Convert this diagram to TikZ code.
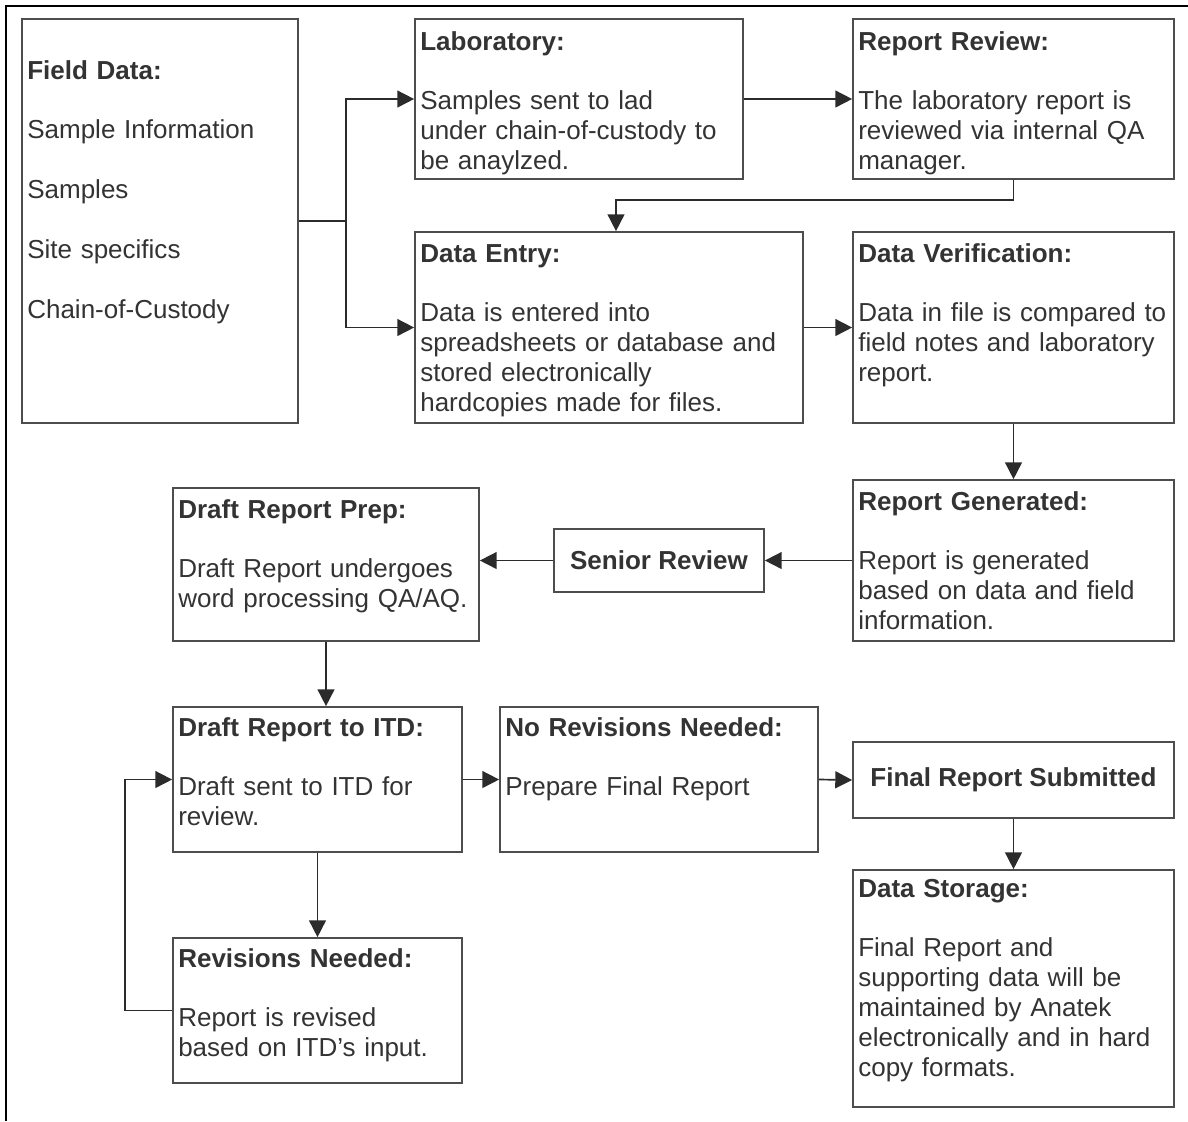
\documentclass[tikz,border=0pt]{standalone}
\usepackage{fontspec}
\setmainfont{Liberation Sans}
\usepackage{xcolor}
\usepackage{tikz}
\usetikzlibrary{calc,arrows.meta,fit}
\definecolor{boxline}{HTML}{4D4D4D}
\definecolor{textmain}{HTML}{333333}
\definecolor{linkline}{HTML}{2B2B2B}
\definecolor{frameline}{HTML}{000000}

\begin{document}
\begin{tikzpicture}[x=0.025cm, y=-0.025cm,
  box/.style={draw=boxline, line width=1.2pt, inner sep=0pt},
  boxtext/.style={anchor=base west, align=left, inner sep=0pt, text width=12cm, font=\fontsize{18.5}{21.3}\selectfont, text=textmain},
  midtext/.style={anchor=center, inner sep=0pt, font=\fontsize{18.5}{21.3}\selectfont\bfseries, text=textmain},
  flow/.style={draw=linkline, line width=1.2pt, -{Triangle[length=12pt, width=12pt]}},
]
\def\gap{21.3pt}
\useasboundingbox (0,0) rectangle (1188,1121);

% Page frame
\draw[frameline, line width=1.5pt] (1188,6) -- (6,6) -- (6,1121);

% Field data
\node[box, fit={(22,19) (298,423)}] (fd) {};
\node[boxtext] (fd-t) at (27,79) {\textbf{Field Data:}\\[\gap]Sample Information\\[\gap]Samples\\[\gap]Site specifics\\[\gap]Chain-of-Custody};

% Laboratory
\node[box, fit={(415,19) (743,179)}] (lab) {};
\node[boxtext] (lab-t) at (420,50) {\textbf{Laboratory:}\\[\gap]Samples sent to lad\\under chain-of-custody to\\be anaylzed.};

% Report review
\node[box, fit={(853,19) (1174,179)}] (rr) {};
\node[boxtext] (rr-t) at (858,50) {\textbf{Report Review:}\\[\gap]The laboratory report is\\reviewed via internal QA\\manager.};

% Data entry
\node[box, fit={(415,232) (803,423)}] (de) {};
\node[boxtext] (de-t) at (420,262) {\textbf{Data Entry:}\\[\gap]Data is entered into\\spreadsheets or database and\\stored electronically\\hardcopies made for files.};

% Data verification
\node[box, fit={(853,232) (1174,423)}] (dv) {};
\node[boxtext] (dv-t) at (858,262) {\textbf{Data Verification:}\\[\gap]Data in file is compared to\\field notes and laboratory\\report.};

% Report generated
\node[box, fit={(853,480) (1174,641)}] (rg) {};
\node[boxtext] (rg-t) at (858,510) {\textbf{Report Generated:}\\[\gap]Report is generated\\based on data and field\\information.};

% Senior review
\node[box, fit={(554,529) (764,592)}] (sr) {};
\node[midtext] (sr-t) at (sr.center) {Senior Review};

% Draft report prep
\node[box, fit={(173,488) (479,641)}] (drp) {};
\node[boxtext] (drp-t) at (178,518) {\textbf{Draft Report Prep:}\\[\gap]Draft Report undergoes\\word processing QA/AQ.};

% Draft report to ITD
\node[box, fit={(173,707) (462,852)}] (itd) {};
\node[boxtext] (itd-t) at (178,736) {\textbf{Draft Report to ITD:}\\[\gap]Draft sent to ITD for\\review.};

% No revisions needed
\node[box, fit={(500,707) (818,852)}] (norev) {};
\node[boxtext] (norev-t) at (505,736) {\textbf{No Revisions Needed:}\\[\gap]Prepare Final Report};

% Revisions needed
\node[box, fit={(173,938) (462,1083)}] (rev) {};
\node[boxtext] (rev-t) at (178,967) {\textbf{Revisions Needed:}\\[\gap]Report is revised\\based on ITD's input.};

% Final report submitted
\node[box, fit={(853,742) (1174,818)}] (frs) {};
\node[midtext] (frs-t) at (frs.center) {Final Report Submitted};

% Data storage
\node[box, fit={(853,870) (1174,1107)}] (ds) {};
\node[boxtext] (ds-t) at (858,897) {\textbf{Data Storage:}\\[\gap]Final Report and\\supporting data will be\\maintained by Anatek\\electronically and in hard\\copy formats.};

% Connectors
\coordinate (split) at (346,221);
\draw[flow] (fd.east) -- (split) |- (lab.west);
\draw[flow] (split) |- (de.west);
\draw[flow] (lab.east) -- (rr.west);
\draw[flow] (rr.south) -- ++(0,20) -| ($(de.north)+(7,0)$);
\draw[flow] (de.east) -- (dv.west);
\draw[flow] (dv.south) -- (rg.north);
\draw[flow] (rg.west |- sr.east) -- (sr.east);
\draw[flow] (sr.west) -- (sr.west -| drp.east);
\draw[flow] (drp.south) -- (drp.south |- itd.north);
\draw[flow] (itd.east) -- (norev.west);
\draw[flow] (itd.south) -- (rev.north);
\draw[flow] (rev.west) -- ++(-47,0) |- (itd.west);
\draw[flow] (norev.east) -- (frs.west);
\draw[flow] (frs.south) -- (ds.north);

\end{tikzpicture}
\end{document}
